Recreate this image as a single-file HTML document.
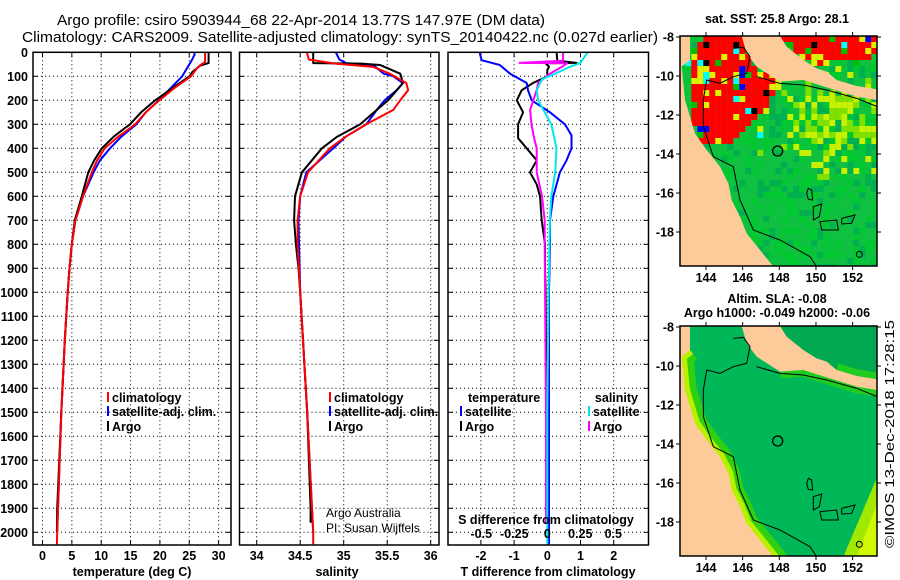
<!DOCTYPE html>
<html><head><meta charset="utf-8"><style>
html,body{margin:0;padding:0;background:#fff}
svg{display:block;font-family:"Liberation Sans",sans-serif}
.b{font-weight:bold;font-size:12.5px}
</style></head><body>
<svg id="fig" width="900" height="580" viewBox="0 0 900 580" xmlns="http://www.w3.org/2000/svg">
<defs>
<clipPath id="cp1"><rect x="33" y="52.3" width="198" height="492.7"/></clipPath>
<clipPath id="cp2"><rect x="239.5" y="52.3" width="199.5" height="492.7"/></clipPath>
<clipPath id="cp3"><rect x="448" y="52.3" width="200.5" height="492.7"/></clipPath>
<clipPath id="cm1"><rect x="680" y="36" width="197" height="230"/></clipPath>
<clipPath id="cm2"><rect x="680" y="326" width="197" height="230"/></clipPath>
</defs>
<text x="301" y="25" font-size="15" text-anchor="middle" textLength="488" lengthAdjust="spacingAndGlyphs">Argo profile: csiro 5903944_68 22-Apr-2014 13.77S 147.97E (DM data)</text>
<text x="340" y="42" font-size="15" text-anchor="middle" textLength="636" lengthAdjust="spacingAndGlyphs">Climatology: CARS2009. Satellite-adjusted climatology: synTS_20140422.nc (0.027d earlier)</text>
<g id="panels"></g>
<g id="maps"></g>
<text transform="translate(894,548) rotate(-90)" font-size="12.5" textLength="228" lengthAdjust="spacingAndGlyphs">©IMOS 13-Dec-2018 17:28:15</text>
</svg>
<script>
// ---------- data ----------
const depthTicks=[0,100,200,300,400,500,600,700,800,900,1000,1100,1200,1300,1400,1500,1600,1700,1800,1900,2000];
const tempTicks=[0,5,10,15,20,25,30];
const salTicks=[34,34.5,35,35.5,36];
const dTTicks=[-2,-1,0,1,2];
const dSTicks=[-0.5,-0.25,0,0.25,0.5];
const tClimDepth=[-50,0,40,55,70,100,150,200,250,300,350,400,450,500,600,700,800,900,1000,1200,1500,2000,2050];
const tClimVal=[27.7,27.7,27.7,26.8,26.2,25.3,22.4,19.9,17.6,15.8,13.0,10.6,9.3,8.4,6.9,5.6,5.0,4.6,4.3,3.8,3.2,2.5,2.45];
const tArgoDepth=[-50,0,45,55,80,100,150,200,250,300,350,400,450,500,600,700,800,900,1000,1200,1500,1900,2000];
const tArgoVal=[28.3,28.3,28.3,26.9,25.6,25.0,22.1,19.2,16.8,14.9,12.2,10.1,8.8,7.8,6.7,5.5,5.0,4.6,4.3,3.8,3.2,2.5,2.45];
const tSatDepth=[-50,10,30,100,150,200,250,300,350,400,450,500,600,700,800,900,1000,1200,1500,2000];
const tSatVal=[25.9,25.9,25.5,23.8,21.8,19.8,17.6,16.0,13.5,11.5,9.8,8.7,6.9,5.6,5.0,4.6,4.3,3.8,3.2,2.5];
const sClimDepth=[-50,-20,30,47,61,89,128,158,200,240,300,350,400,500,600,700,800,1000,1500,2000,2050];
const sClimVal=[34.56,34.56,34.6,34.9,35.34,35.53,35.72,35.74,35.65,35.57,35.26,35.03,34.84,34.59,34.5,34.47,34.47,34.5,34.58,34.65,34.65];
const sArgoDepth=[-50,0,45,47,53,89,100,128,158,200,240,300,353,400,500,600,700,800,900,1000,1500,1900,1960];
const sArgoVal=[34.65,34.65,34.65,35.2,35.42,35.65,35.66,35.68,35.61,35.51,35.38,35.19,34.92,34.75,34.52,34.44,34.43,34.45,34.48,34.5,34.58,34.62,34.62];
const sSatDepth=[-50,30,45,53,89,100,128,158,200,240,300,350,400,500,600,700,1000,1500,2000];
const sSatVal=[34.84,34.95,35.03,35.34,35.46,35.57,35.68,35.61,35.47,35.38,35.26,35.03,34.88,34.57,34.5,34.48,34.5,34.58,34.65];
const dTSatDepth=[-50,33,53,89,128,158,200,250,300,346,400,450,500,600,700,800,1000,1500,2050];
const dTSatVal=[-2.13,-1.98,-1.43,-1.12,-0.62,-0.58,-0.47,0.08,0.53,0.73,0.73,0.58,0.38,0.18,0.08,0.08,0.05,0.05,0.05];
const dTArgoDepth=[-50,35,44,46,60,75,100,128,158,200,250,300,358,400,450,500,550,600,700,800,900,1000,1500,1960];
const dTArgoVal=[0.25,0.3,0.88,-0.05,0.05,0,0,-0.43,-0.77,-0.92,-0.73,-0.88,-0.88,-0.62,-0.32,-0.52,-0.32,-0.22,-0.17,-0.07,-0.07,-0.05,-0.02,-0.02];
const dSSatDepth=[-50,-45,-20,45,61,89,112,158,200,250,300,400,500,600,700,1000,1500,2050];
const dSSatVal=[0.1,0.34,0.33,0.25,0.17,0.06,-0.04,-0.08,-0.07,-0.02,0.03,0.07,0.06,0.03,0.02,0.01,0,0];
const dSArgoDepth=[-50,35,44,46,61,89,128,158,240,300,358,400,500,600,700,800,1500,1960];
const dSArgoVal=[0.12,0.12,-0.21,0.15,0.11,0.02,-0.07,-0.08,-0.13,-0.12,-0.1,-0.08,-0.08,-0.04,-0.02,-0.02,-0.01,-0.01];

const NS='http://www.w3.org/2000/svg';
function mk(tag,attrs,parent){const e=document.createElementNS(NS,tag);for(const k in attrs)e.setAttribute(k,attrs[k]);parent.appendChild(e);return e;}
const yD=d=>52.3+d*0.24;
const xT=v=>42.5+5.87*v;
const xS=v=>256.7+87*(v-34);
const xDT=v=>547.3+33.2*v;
const xDS=v=>547.3+132*v;
const PT=52.3,PB=545;
const panels=document.getElementById('panels');

function frame(x0,x1,xticks,xf,name){
  const g=mk('g',{},panels);
  
  
  depthTicks.forEach(d=>{const y=yD(d);
    mk('line',{x1:x0,x2:x1,y1:y,y2:y,stroke:'#000','stroke-width':1,'stroke-dasharray':'1,3'},g);
    mk('line',{x1:x0,x2:x0+5,y1:y,y2:y,stroke:'#000'},g);
    mk('line',{x1:x1-5,x2:x1,y1:y,y2:y,stroke:'#000'},g);});
  xticks.forEach(v=>{const x=xf(v);
    mk('line',{x1:x,x2:x,y1:PT,y2:PB,stroke:'#000','stroke-dasharray':'1,3'},g);
    mk('line',{x1:x,x2:x,y1:PB-5,y2:PB,stroke:'#000'},g);
    mk('line',{x1:x,x2:x,y1:PT,y2:PT+5,stroke:'#000'},g);});
  return g;
}
function line(g,depths,vals,xf,color,name){
  const pts=depths.map((d,i)=>xf(vals[i]).toFixed(1)+','+yD(d).toFixed(1)).join(' ');
  const p=mk('polyline',{points:pts,fill:'none',stroke:color,'stroke-width':2,'stroke-linejoin':'round'},g);
  
  
}
function border(g,x0,x1){mk('rect',{x:x0,y:PT,width:x1-x0,height:PB-PT,fill:'none',stroke:'#000','stroke-width':1.5},g);}
function txt(g,x,y,s,anchor,name,size){const t=mk('text',{x:x,y:y,'text-anchor':anchor||'start','class':'b'},g);if(size)t.setAttribute('font-size',size);t.textContent=s;
  
  return t;}
function legend(g,x,y,color,label,name){mk('line',{x1:x,x2:x,y1:y-10,y2:y,stroke:color,'stroke-width':2},g);txt(g,x+4,y,label,'start',name);}

// panel 1
const g1=frame(33,231,tempTicks,xT,'temperature-panel');
const c1=mk('g',{'clip-path':'url(#cp1)'},g1);
line(c1,tSatDepth,tSatVal,xT,'#0000ff','temp-satellite-line');
line(c1,tArgoDepth,tArgoVal,xT,'#000','temp-argo-line');
line(c1,tClimDepth,tClimVal,xT,'#ff0000','temp-climatology-line');
border(g1,33,231);
depthTicks.forEach(d=>txt(g1,28,yD(d)+4.5,String(d),'end','depth-tick-label'));
tempTicks.forEach(v=>txt(g1,xT(v),560,String(v),'middle','temp-tick-label'));
txt(g1,132,576,'temperature (deg C)','middle','x-axis-title-temperature');
legend(g1,108,402,'#ff0000','climatology','legend-climatology');
legend(g1,108,416,'#0000ff','satellite-adj. clim.','legend-satellite');
legend(g1,108,431,'#000','Argo','legend-argo');

// panel 2
const g2=frame(239.5,439,salTicks,xS,'salinity-panel');
const c2=mk('g',{'clip-path':'url(#cp2)'},g2);
line(c2,sSatDepth,sSatVal,xS,'#0000ff','sal-satellite-line');
line(c2,sArgoDepth,sArgoVal,xS,'#000','sal-argo-line');
line(c2,sClimDepth,sClimVal,xS,'#ff0000','sal-climatology-line');
border(g2,239.5,439);
salTicks.forEach(v=>txt(g2,xS(v),560,String(v),'middle','salinity-tick-label'));
txt(g2,337,576,'salinity','middle','x-axis-title-salinity');
legend(g2,330,402,'#ff0000','climatology','legend-climatology-2');
legend(g2,330,416,'#0000ff','satellite-adj. clim.','legend-satellite-2');
legend(g2,330,431,'#000','Argo','legend-argo-2');
[['Argo Australia',517],['PI: Susan Wijffels',532]].forEach(a=>{const t=mk('text',{x:326,y:a[1],'font-size':12},g2);t.textContent=a[0];
  
  });

// panel 3
const g3=frame(448,648.5,dTTicks,xDT,'difference-panel');
const c3=mk('g',{'clip-path':'url(#cp3)'},g3);
line(c3,dTArgoDepth,dTArgoVal,xDT,'#000','dT-argo-line');
line(c3,dTSatDepth,dTSatVal,xDT,'#0000ff','dT-satellite-line');
line(c3,dSArgoDepth,dSArgoVal,xDS,'#ff00ff','dS-argo-line');
line(c3,dSSatDepth,dSSatVal,xDS,'#00e8e8','dS-satellite-line');
border(g3,448,648.5);
txt(g3,468,402,'temperature','start','legend-temperature-header');
legend(g3,461,416,'#0000ff','satellite','legend-t-satellite');
legend(g3,461,431,'#000','Argo','legend-t-argo');
txt(g3,638,402,'salinity','end','legend-salinity-header');
legend(g3,589,416,'#00e8e8','satellite','legend-s-satellite');
legend(g3,589,431,'#ff00ff','Argo','legend-s-argo');
txt(g3,546,524,'S difference from climatology','middle','s-axis-title');
dSTicks.forEach(v=>txt(g3,xDS(v),538,String(v),'middle','s-diff-tick-label'));
dTTicks.forEach(v=>txt(g3,xDT(v),560,String(v),'middle','t-diff-tick-label'));
txt(g3,548,576,'T difference from climatology','middle','x-axis-title-tdiff');

// ---------- maps ----------
const lonTicks=[144,146,148,150,152];
const latTicks=[-8,-10,-12,-14,-16,-18];
const maps=document.getElementById('maps');
const mapX0=680,mapX1=877;
const lonX=l=>706+18.33*(l-144);
const latY=(l,top)=>top+37+19.5*(-8-l);
const landAus=[[28,108],[28,800],[310,800],[270,750],[230,700],[210,650],[185,600],[175,550],[150,500],[110,450],[75,400],[45,300],[35,200],[60,180],[60,108]];
const landPng=[[215,108],[330,108],[350,140],[400,180],[440,205],[470,215],[500,240],[560,258],[622,268],[622,300],[560,290],[470,262],[400,240],[330,245],[260,200],[230,160]];
const redPoly=[[60,230],[75,130],[120,108],[215,108],[230,160],[260,200],[330,245],[330,270],[300,300],[280,340],[240,380],[200,420],[160,430],[120,440],[80,420],[70,350]];
const redPoly2=[[330,108],[622,108],[622,160],[560,190],[500,180],[450,200],[400,180],[350,140]];
function inPoly(p,poly){let c=false;for(let i=0,j=poly.length-1;i<poly.length;j=i++){const a=poly[i],b=poly[j];if(((a[1]>p[1])!=(b[1]>p[1]))&&(p[0]<(b[0]-a[0])*(p[1]-a[1])/(b[1]-a[1])+a[0]))c=!c;}return c;}
function hash(i,j){let h=(i*374761393+j*668265263)^0x5bd1e995;h=(h^(h>>>13))*1274126177;return ((h^(h>>>16))>>>0)/4294967296;}
const pts=a=>a.map(p=>p.join(',')).join(' ');
function drawMap(top,isSST,name,clip){
  const g=mk('g',{},maps);
  
  
  const cg=mk('g',{'clip-path':`url(#${clip})`},g);
  const inner=mk('g',{transform:`translate(670,${top}) scale(0.33333)`},cg);
  if(isSST){
    mk('rect',{x:28,y:108,width:594,height:692,fill:'#10c040'},inner);
    for(let i=0;i<33;i++)for(let j=0;j<39;j++){
      const x=28+i*18,y=108+j*18,c=[x+9,y+9],h=hash(i,j);let col=null;
      if(inPoly(c,redPoly)||inPoly(c,redPoly2)){col=h<0.72?'#ff0000':h<0.84?'#e0f000':h<0.9?'#00c000':h<0.94?'#000':h<0.97?'#0000ff':'#00ffff';}
      else{const dx=(c[0]-520)/150,dy=(c[1]-380)/110,w=Math.exp(-(dx*dx+dy*dy));
        const yl=h<w*0.8;col=yl?(h<w*0.4?'#c8f000':'#80e000'):(h>0.85?'#00b050':h>0.6?'#00c830':null);
        if(c[1]<500&&c[0]<330&&h>0.96)col='#00ffff';}
      if(col)mk('rect',{x:x,y:y,width:18,height:18,fill:col},inner);}
  }else{
    mk('rect',{x:28,y:108,width:594,height:692,fill:'#00b858'},inner);
    mk('polygon',{points:'330,108 622,108 622,300 560,290 470,262 400,240',fill:'#00a850'},inner);
    mk('polygon',{points:'520,800 622,560 622,800',fill:'#a0e800'},inner);
    mk('polygon',{points:'560,800 622,640 622,800',fill:'#d0f800'},inner);
    mk('polyline',{points:pts(landAus.slice(1,14).reverse()),fill:'none',stroke:'#30d010','stroke-width':70},inner);
    mk('polyline',{points:pts(landPng.slice(6,14)),fill:'none',stroke:'#20cc20','stroke-width':40},inner);
    mk('polyline',{points:pts(landAus.slice(1,14).reverse()),fill:'none',stroke:'#b8f000','stroke-width':30},inner);
  }
  mk('polygon',{points:pts(landAus),fill:'#fccb99'},inner);
  mk('polygon',{points:pts(landPng),fill:'#fccb99'},inner);
  mk('polyline',{points:'190,145 220,142 240,170 230,220 190,230 150,250 110,240 100,300 100,380 130,470 190,500 210,600 250,690 330,720 420,770 440,800',fill:'none',stroke:'#000','stroke-width':3},inner);
  mk('polyline',{points:'260,230 330,250 400,255 470,270 560,295 622,320',fill:'none',stroke:'#000','stroke-width':3},inner);
  [['415,565 425,570 428,600 415,598 410,580'],['430,620 455,612 448,650 430,660'],['450,665 500,660 505,690 455,690'],['515,655 555,645 545,670 515,672']].forEach(p=>mk('polygon',{points:p[0],fill:'none',stroke:'#000','stroke-width':3},inner));
  mk('circle',{cx:568,cy:763,r:9,fill:'none',stroke:'#000','stroke-width':3},inner);
  const fl=mk('circle',{cx:323,cy:453,r:15,fill:'none',stroke:'#000','stroke-width':4},inner);
  
  
  const yTop=top+36,yBot=top+266;
  mk('rect',{x:mapX0,y:yTop,width:mapX1-mapX0,height:yBot-yTop,fill:'none',stroke:'#000','stroke-width':1.5},g);
  lonTicks.forEach(l=>{const x=lonX(l);mk('line',{x1:x,x2:x,y1:yBot,y2:yBot+4,stroke:'#000'},g);mk('line',{x1:x,x2:x,y1:yTop-4,y2:yTop,stroke:'#000'},g);
    txt(g,x,yBot+16,String(l),'middle','longitude-tick-label');});
  latTicks.forEach(l=>{const y=latY(l,top);mk('line',{x1:mapX0-4,x2:mapX0,y1:y,y2:y,stroke:'#000'},g);mk('line',{x1:mapX1,x2:mapX1+4,y1:y,y2:y,stroke:'#000'},g);
    txt(g,mapX0-6,y+4.5,String(l),'end','latitude-tick-label');});
  return g;
}
const m1=drawMap(0,true,'sst-map','cm1');
txt(m1,777,23,'sat. SST: 25.8 Argo: 28.1','middle','sst-map-title');
const m2=drawMap(290,false,'sla-map','cm2');
txt(m2,777,303,'Altim. SLA: -0.08','middle','sla-map-title');
txt(m2,777,317,'Argo h1000: -0.049 h2000: -0.06','middle','sla-map-subtitle');
</script>
</body></html>
